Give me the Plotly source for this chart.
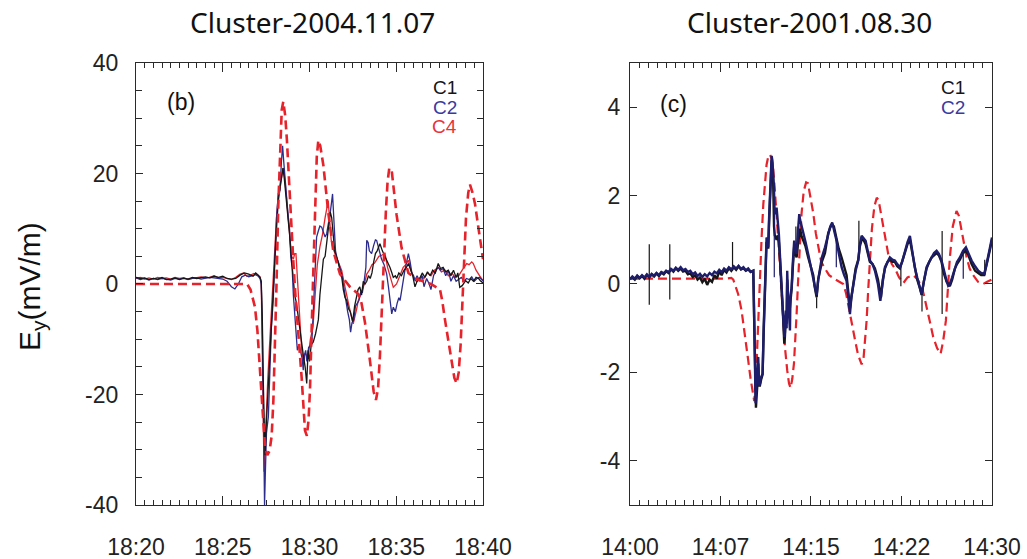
import pandas as pd
import plotly.graph_objects as go

# ---------------- Panel (b): Cluster 2004-11-07, minutes after 18:20 ----------------
b_start = "2004-11-07 18:20:00"
b_end = "2004-11-07 18:40:00"

b_c1 = [
    (0, 1.2), (0.25, 1.0), (0.5, 1.1), (0.75, 0.8), (1.0, 1.0), (1.25, 0.9), (1.5, 1.2), (1.75, 0.8),
    (2.0, 0.9), (2.25, 1.1), (2.5, 0.8), (2.75, 1.0), (3.0, 0.9), (3.25, 1.2), (3.5, 1.0), (3.75, 1.1),
    (4.0, 1.3), (4.25, 1.1), (4.5, 1.4), (4.75, 1.2), (5.0, 1.4), (5.25, 1.0), (5.5, 0.9), (5.75, 1.0),
    (6.0, 1.6), (6.25, 2.0), (6.5, 1.8), (6.75, 1.4), (6.9, 2.0), (7.05, 1.6), (7.15, 1.2), (7.22, 0.5),
    (7.28, -6), (7.34, -18), (7.4, -28), (7.44, -31), (7.5, -26), (7.6, -20), (7.7, -13), (7.8, -6),
    (7.9, -2), (8.0, 4), (8.1, 10), (8.2, 15), (8.3, 17), (8.4, 19), (8.47, 21), (8.55, 19),
    (8.65, 16), (8.75, 13), (8.85, 9), (8.95, 5), (9.05, 1), (9.15, -2), (9.25, -3.5), (9.35, -6),
    (9.45, -9), (9.55, -11), (9.65, -13), (9.75, -15), (9.84, -18), (9.92, -12), (10.0, -14), (10.1, -11),
    (10.22, -10.5), (10.35, -9), (10.45, -7), (10.51, -6.5), (10.6, -2), (10.7, 1), (10.8, 4.5), (10.9, 5),
    (11.0, 8), (11.1, 10), (11.2, 13), (11.28, 12), (11.35, 9), (11.45, 6), (11.55, 5), (11.65, 4),
    (11.75, 2.5), (11.85, 1.5), (11.95, -1), (12.05, -2.5), (12.15, -3), (12.25, -4.5), (12.35, -5), (12.49, -6.8),
    (12.6, -4), (12.7, -2.5), (12.8, -1), (12.9, -0.5), (13.0, -2), (13.1, 0.5), (13.2, 0), (13.3, 0.5),
    (13.4, 1.5), (13.5, 1), (13.6, 2), (13.7, 4), (13.8, 5.5), (13.9, 6), (14.0, 7), (14.06, 7.3),
    (14.2, 6), (14.35, 5), (14.5, 4), (14.64, 3), (14.75, 2), (14.83, 1.2), (14.95, 1.5), (15.02, 1.0),
    (15.15, 2), (15.3, 1.5), (15.45, 2.5), (15.55, 2.8), (15.7, 3.7), (15.85, 2.5), (15.95, 1.5), (16.08, -0.5),
    (16.2, 0.5), (16.35, 1.0), (16.5, 2.0), (16.65, 1.2), (16.8, 2.2), (16.95, 1.5), (17.1, 2.5), (17.25, 2),
    (17.42, 3.7), (17.55, 2.8), (17.7, 3), (17.85, 2.2), (18.0, 2.5), (18.15, 1.5), (18.3, 2.5), (18.45, 1.2),
    (18.55, 2), (18.66, -0.6), (18.8, -0.3), (19.0, 0.6), (19.15, 0.2), (19.3, 1.0), (19.45, 0.5), (19.6, 1.2),
    (19.75, 1.0), (19.85, 0.6), (20.0, 0.2),
]

b_c2 = [
    (0, 1.1), (0.25, 0.8), (0.5, 1.0), (0.75, 0.7), (1.0, 1.0), (1.25, 0.8), (1.5, 1.0), (1.75, 0.9),
    (2.0, 0.7), (2.25, 1.0), (2.5, 0.9), (2.75, 1.1), (3.0, 0.8), (3.25, 1.0), (3.5, 1.1), (3.75, 0.9),
    (4.0, 1.0), (4.25, 1.2), (4.5, 1.1), (4.75, 1.0), (5.0, 0.9), (5.25, 0.5), (5.5, -0.5), (5.7, -0.9),
    (5.9, 0), (6.1, 1.3), (6.3, 1.6), (6.5, 1.3), (6.7, 1.5), (6.9, 1.7), (7.05, 1.4), (7.15, 1.0),
    (7.22, 0), (7.28, -8), (7.34, -22), (7.38, -34), (7.41, -40), (7.45, -35), (7.52, -27), (7.63, -24),
    (7.72, -16), (7.8, -8), (7.91, -3), (8.0, 4), (8.1, 12), (8.2, 16.3), (8.3, 17), (8.38, 22),
    (8.45, 25), (8.52, 22), (8.6, 18), (8.7, 15), (8.78, 12), (8.85, 10), (8.92, 5), (9.0, 3),
    (9.07, -2), (9.15, -6), (9.22, -9), (9.3, -12), (9.4, -11), (9.5, -12.5), (9.58, -13.5), (9.64, -15.6),
    (9.7, -13), (9.78, -12), (9.85, -14), (9.95, -11.5), (10.05, -11), (10.13, -10.8), (10.22, -5), (10.3, 2),
    (10.41, 8.5), (10.5, 9.5), (10.6, 10.5), (10.7, 10.3), (10.8, 9.5), (10.9, 8.5), (10.99, 9.1), (11.1, 11),
    (11.2, 13), (11.28, 15), (11.33, 16.3), (11.4, 12), (11.5, 6), (11.6, 4.5), (11.7, 3.5), (11.8, 2.5),
    (11.9, 1), (12.0, -1.5), (12.1, -3), (12.2, -5), (12.3, -6.5), (12.37, -8.7), (12.45, -7), (12.55, -6.5),
    (12.65, -4), (12.75, -3.5), (12.85, -3), (12.95, -1.5), (13.05, -1.5), (13.15, 0.5), (13.25, 3), (13.3, 7.9),
    (13.38, 7.5), (13.45, 6), (13.58, 5.5), (13.7, 7), (13.8, 8), (13.87, 7.9), (13.95, 7), (14.05, 6),
    (14.15, 4.5), (14.3, 3.5), (14.45, 1.8), (14.55, -0.5), (14.65, -3), (14.74, -5.4), (14.83, -4.2), (14.95, -5),
    (15.05, -3.5), (15.15, -2.5), (15.22, -3), (15.35, 0), (15.5, 2.5), (15.6, 4), (15.7, 5.5), (15.8, 4),
    (15.9, 2), (16.0, 1.5), (16.08, 0.6), (16.2, 1.5), (16.35, 0.5), (16.5, 1.5), (16.6, -0.5), (16.75, 1),
    (16.9, 0), (17.0, -1.0), (17.15, 1.5), (17.3, 2.5), (17.42, 3), (17.55, 2.5), (17.7, 2.8), (17.85, 1.5),
    (18.0, 2.5), (18.15, 0.5), (18.3, 1.5), (18.45, 0.5), (18.6, 0.8), (18.75, 1.2), (18.9, 0.5), (19.05, 1.0),
    (19.2, 0.8), (19.35, 1.3), (19.5, 0.5), (19.65, 1.0), (19.8, 1.2), (19.9, 0.8), (20.0, 0.6),
]

b_c4 = [
    (0, 1.0), (0.25, 1.2), (0.5, 0.9), (0.75, 1.1), (1.0, 0.9), (1.25, 1.2), (1.5, 1.0), (1.75, 1.1),
    (2.0, 0.9), (2.25, 1.2), (2.5, 1.0), (2.75, 1.1), (3.0, 0.9), (3.25, 1.0), (3.5, 1.1), (3.75, 1.3),
    (4.0, 1.1), (4.25, 1.2), (4.5, 1.5), (4.75, 1.1), (5.0, 1.2), (5.25, 1.0), (5.5, 0.8), (5.75, 1.2),
    (6.0, 1.8), (6.2, 2.0), (6.4, 1.4), (6.6, 1.6), (6.8, 1.9), (7.0, 1.6), (7.15, 1.3), (7.22, 0.2),
    (7.28, -10), (7.33, -24), (7.38, -34), (7.43, -30), (7.5, -24), (7.6, -17), (7.7, -11), (7.8, -5),
    (7.9, 0), (8.0, 6), (8.1, 12), (8.2, 16), (8.3, 18), (8.4, 20), (8.49, 21), (8.58, 19),
    (8.68, 15.5), (8.78, 12.5), (8.88, 9), (8.97, 5), (9.07, 4.5), (9.15, 5.5), (9.22, 5.5), (9.3, 1.5),
    (9.36, -3), (9.45, -7.5), (9.55, -12), (9.65, -14), (9.75, -12.5), (9.85, -13), (9.95, -12.5), (10.05, -10),
    (10.2, -7.8), (10.35, -1), (10.45, 3.5), (10.6, 6.7), (10.75, 9), (10.9, 12), (11.0, 13.5), (11.08, 15.1),
    (11.15, 12), (11.25, 8), (11.35, 6.5), (11.47, 5.5), (11.6, 4.5), (11.75, 3), (11.86, 2.4), (12.05, -0.6),
    (12.2, -3), (12.35, -5), (12.52, -7.2), (12.62, -6), (12.72, -4.5), (12.81, -3), (12.95, -2), (13.1, -0.6),
    (13.2, 0.5), (13.3, 1.8), (13.45, 2.5), (13.6, 3.5), (13.75, 3.8), (13.87, 4.3), (14.0, 5), (14.15, 5.2),
    (14.35, 5.5), (14.5, 3), (14.65, 1.5), (14.83, -0.6), (15.02, 0), (15.2, 1.5), (15.4, 3), (15.55, 3.5),
    (15.7, 4.3), (15.85, 2.5), (16.0, 1.2), (16.15, 0.5), (16.27, 0.6), (16.45, 1.5), (16.6, 1), (16.8, 2),
    (17.0, 1.5), (17.2, 2.5), (17.42, 3), (17.6, 2.2), (17.8, 2.5), (18.0, 1.5), (18.2, 2), (18.4, 1.2),
    (18.6, 1.5), (18.8, 2.5), (18.95, 3.2), (19.06, 3.7), (19.2, 3.5), (19.35, 4.0), (19.44, 3.7), (19.6, 2.5),
    (19.8, 1.5), (20.0, 0.6),
]

# model field (dashed)
b_model = [
    (0, 0), (6.4, 0), (6.6, -1.0), (6.86, -4.2), (7.0, -8.5), (7.15, -15), (7.3, -23), (7.44, -29.5),
    (7.57, -31), (7.7, -30.2), (7.82, -27.5), (7.92, -21), (8.01, -12), (8.1, 0), (8.2, 14), (8.3, 25),
    (8.4, 31.5), (8.49, 33), (8.6, 30.5), (8.7, 26), (8.78, 21), (8.9, 13), (9.07, 4), (9.2, -2.5),
    (9.35, -8.5), (9.55, -17), (9.74, -26.5), (9.85, -27.5), (9.95, -24.5), (10.03, -19), (10.18, -2), (10.32, 15),
    (10.42, 23), (10.51, 26), (10.62, 25), (10.8, 21.5), (11.08, 13), (11.37, 6), (11.76, 1.8), (12.33, -0.5),
    (12.81, -1.8), (13.0, -3.5), (13.2, -7), (13.49, -14), (13.7, -19.5), (13.83, -21), (13.95, -19), (14.06, -13),
    (14.25, 3), (14.4, 13), (14.5, 18.5), (14.6, 21), (14.74, 20.5), (15.02, 12.5), (15.31, 6.5), (15.7, 2),
    (16.1, 1.0), (16.56, 0.5), (17.0, 0), (17.52, -1), (17.65, -3), (17.81, -6.5), (18.0, -10.5), (18.2, -14.5),
    (18.35, -17), (18.48, -18), (18.6, -16), (18.71, -11), (18.87, 2), (19.02, 12), (19.15, 16.5), (19.25, 18),
    (19.4, 16.5), (19.54, 14.5), (19.79, 9), (20.0, 4.5),
]

b_yticks = [-40, -20, 0, 20, 40]
b_ytick_labels = ["-40", "-20", "0", "20", "40"]

# ---------------- Panel (c): Cluster 2001-08-30, minutes after 14:00 ----------------
c_start = "2001-08-30 14:00:00"
c_end = "2001-08-30 14:30:00"

c_c1 = [
    (0.0, 0.12), (0.2, 0.15), (0.4, 0.10), (0.6, 0.18), (0.8, 0.13), (1.0, 0.18), (1.2, 0.12), (1.4, 0.20),
    (1.6, 0.15), (1.8, 0.22), (2.0, 0.17), (2.2, 0.24), (2.4, 0.18), (2.6, 0.26), (2.8, 0.22), (3.0, 0.29),
    (3.2, 0.25), (3.4, 0.33), (3.6, 0.28), (3.8, 0.36), (4.0, 0.30), (4.2, 0.35), (4.4, 0.28), (4.6, 0.30),
    (4.8, 0.22), (5.0, 0.24), (5.2, 0.16), (5.4, 0.20), (5.6, 0.10), (5.8, 0.15), (6.0, 0.04), (6.2, 0.12),
    (6.4, -0.02), (6.6, 0.10), (6.8, 0.05), (7.0, 0.20), (7.2, 0.12), (7.4, 0.28), (7.6, 0.20), (7.8, 0.32),
    (8.0, 0.26), (8.2, 0.36), (8.4, 0.30), (8.6, 0.38), (8.8, 0.32), (9.0, 0.40), (9.2, 0.33), (9.4, 0.36),
    (9.6, 0.30), (9.8, 0.33), (10.0, 0.27), (10.15, 0.28),
    (10.22, 0.3), (10.3, -0.9), (10.44, -2.8), (10.55, -2.3), (10.63, -1.8), (10.7, -2.3), (10.77, -2.3), (10.88, -2.15),
    (10.99, -2.05), (11.08, -1.1), (11.18, -0.1), (11.25, 0.5), (11.32, 0.95), (11.4, 0.9), (11.46, 0.8), (11.53, 1.4),
    (11.6, 1.95), (11.68, 2.5), (11.74, 2.8), (11.8, 2.7), (11.87, 2.3), (11.94, 1.3), (12.0, 1.1), (12.08, 1.05),
    (12.15, 1.0), (12.25, 1.1), (12.34, 0.95), (12.42, 0.6), (12.51, 0.2), (12.6, -0.3), (12.7, -0.8), (12.79, -1.35),
    (12.84, -1.2), (12.92, -0.7), (12.98, -0.9), (13.03, 0.1), (13.1, -0.4), (13.2, -0.7), (13.3, -0.4), (13.4, -0.1),
    (13.5, 0.4), (13.61, 0.85), (13.7, 0.7), (13.81, 0.6), (13.92, 0.9), (14.03, 1.2), (14.1, 1.25), (14.2, 1.1),
    (14.36, 1.0), (14.55, 0.85), (14.77, 0.6), (14.95, 0.4), (15.19, 0.2), (15.3, -0.05), (15.47, -0.3), (15.6, 0.1),
    (15.74, 0.3), (15.9, 0.5), (16.16, 0.7), (16.3, 0.95), (16.43, 1.15), (16.6, 1.28), (16.76, 1.35), (16.9, 1.3),
    (17.12, 1.05), (17.3, 0.8), (17.54, 0.6), (17.75, 0.4), (17.95, 0.2), (18.1, -0.2), (18.23, -0.55), (18.35, -0.3),
    (18.5, 0.0), (18.7, 0.35), (18.92, 0.55), (19.05, 0.85), (19.2, 1.0), (19.35, 1.0), (19.53, 0.9), (19.7, 0.7),
    (19.88, 0.5), (20.1, 0.45), (20.3, 0.35), (20.55, 0.1), (20.8, -0.3), (20.95, 0.1), (21.13, 0.35), (21.35, 0.5),
    (21.54, 0.55), (21.75, 0.5), (21.95, 0.5), (22.15, 0.4), (22.37, 0.35), (22.55, 0.5), (22.78, 0.7), (23.0, 0.9),
    (23.2, 1.0), (23.4, 0.7), (23.6, 0.35), (23.8, 0.1), (24.03, -0.1), (24.17, -0.25), (24.35, 0.05), (24.58, 0.35),
    (24.8, 0.5), (24.99, 0.6), (25.2, 0.65), (25.41, 0.7), (25.6, 0.65), (25.82, 0.5), (26.0, 0.25), (26.24, 0.05),
    (26.51, -0.05), (26.7, 0.1), (26.93, 0.35), (27.1, 0.45), (27.34, 0.55), (27.6, 0.7), (27.84, 0.75), (28.05, 0.65),
    (28.31, 0.45), (28.6, 0.3), (28.86, 0.25), (29.1, 0.2), (29.36, 0.2), (29.55, 0.4), (29.69, 0.6), (29.85, 0.8),
    (30.0, 1.0),
]

# short spikes in the C1 record: (minute, low, high)
c_c1_spikes = [
    (1.6, -0.47, 0.9), (3.3, -0.35, 0.9), (8.5, 0.3, 0.95), (12.98, -1.0, 0.1), (13.75, 0.65, 1.3),
    (15.47, -0.55, -0.3), (18.97, 0.6, 1.43), (22.45, -0.05, 0.4), (24.2, -0.62, -0.2),
    (25.87, -0.68, 1.2), (29.4, 0.2, 0.55),
]

c_c2 = [
    (0.0, 0.10), (0.2, 0.17), (0.4, 0.12), (0.6, 0.19), (0.8, 0.14), (1.0, 0.20), (1.2, 0.15), (1.4, 0.22),
    (1.6, 0.16), (1.8, 0.23), (2.0, 0.19), (2.2, 0.25), (2.4, 0.20), (2.6, 0.27), (2.8, 0.24), (3.0, 0.30),
    (3.2, 0.27), (3.4, 0.34), (3.6, 0.30), (3.8, 0.37), (4.0, 0.32), (4.2, 0.38), (4.4, 0.31), (4.6, 0.34),
    (4.8, 0.27), (5.0, 0.30), (5.2, 0.22), (5.4, 0.26), (5.6, 0.18), (5.8, 0.23), (6.0, 0.16), (6.2, 0.22),
    (6.4, 0.17), (6.6, 0.25), (6.8, 0.20), (7.0, 0.28), (7.2, 0.24), (7.4, 0.32), (7.6, 0.27), (7.8, 0.35),
    (8.0, 0.30), (8.2, 0.38), (8.4, 0.33), (8.6, 0.40), (8.8, 0.35), (9.0, 0.41), (9.2, 0.34), (9.4, 0.38),
    (9.6, 0.31), (9.8, 0.35), (10.0, 0.28), (10.15, 0.30),
    (10.22, 0.3), (10.3, -0.83), (10.41, -2.7), (10.5, -2.2), (10.63, -1.65), (10.7, -2.3), (10.77, -2.26), (10.88, -2.1),
    (10.99, -2.03), (11.08, -1.0), (11.18, -0.07), (11.25, 0.6), (11.32, 1.05), (11.4, 1.0), (11.46, 0.83), (11.53, 1.5),
    (11.6, 2.03), (11.68, 2.6), (11.74, 2.9), (11.8, 2.8), (11.87, 2.56), (11.93, 2.2), (11.99, 1.6),
    (12.08, 1.6), (12.15, 1.73), (12.25, 1.45), (12.34, 1.13), (12.42, 0.7), (12.51, 0.3), (12.6, -0.2), (12.7, -0.68),
    (12.79, -1.2), (12.84, -1.1), (12.92, -0.6), (12.98, -1.0), (13.03, 0.3), (13.1, -0.3), (13.2, -0.68), (13.26, -1.05),
    (13.3, -0.3), (13.4, -0.07), (13.5, 0.5), (13.61, 0.98), (13.7, 0.8), (13.81, 0.68), (13.92, 1.2), (14.03, 1.58),
    (14.1, 1.45), (14.2, 1.35), (14.36, 1.2), (14.55, 0.95), (14.77, 0.68), (14.95, 0.45), (15.19, 0.15), (15.3, -0.05),
    (15.47, -0.25), (15.6, 0.1), (15.74, 0.38), (15.9, 0.6), (16.16, 0.83), (16.3, 1.0), (16.43, 1.13), (16.6, 1.3),
    (16.76, 1.39), (16.9, 1.25), (17.12, 0.98), (17.3, 0.7), (17.54, 0.38), (17.75, 0.2),
    (17.95, 0.07), (18.1, -0.3), (18.23, -0.68), (18.35, -0.3), (18.5, -0.07), (18.7, 0.3), (18.92, 0.53), (19.05, 0.9),
    (19.2, 1.09), (19.35, 1.05), (19.53, 0.98), (19.7, 0.75), (19.88, 0.53), (20.1, 0.45), (20.3, 0.3), (20.55, 0.0),
    (20.75, -0.38), (20.95, 0.05), (21.13, 0.38), (21.35, 0.5), (21.54, 0.6), (21.75, 0.55), (21.95, 0.53), (22.15, 0.45),
    (22.37, 0.38), (22.55, 0.5), (22.78, 0.75), (23.0, 0.95), (23.2, 1.09), (23.4, 0.75), (23.6, 0.38), (23.8, 0.15),
    (24.03, -0.07), (24.17, -0.23), (24.35, 0.05), (24.58, 0.38), (24.8, 0.5), (24.99, 0.6), (25.2, 0.7), (25.41, 0.75),
    (25.6, 0.68), (25.82, 0.53), (26.0, 0.3), (26.24, 0.07), (26.37, -0.04), (26.51, 0.0), (26.7, 0.15), (26.93, 0.38),
    (27.1, 0.5), (27.34, 0.6), (27.6, 0.75), (27.84, 0.83), (28.05, 0.7), (28.31, 0.53),
    (28.6, 0.4), (28.86, 0.3), (29.1, 0.25), (29.36, 0.23), (29.55, 0.45), (29.69, 0.68), (29.85, 0.85), (30.0, 1.05),
]

# short spikes in the C2 record: (minute, low, high)
c_c2_spikes = [(11.96, 0.15, 2.2), (17.1, 0.38, 1.0), (27.62, 0.12, 0.75)]

# model field (dashed)
c_model = [
    (0, 0.12), (2, 0.12), (4, 0.12), (6, 0.12), (8, 0.12), (8.4, 0.14), (8.56, 0.1), (8.75, -0.05),
    (8.97, -0.23), (9.25, -0.6), (9.53, -1.13), (9.8, -1.73), (10.0, -2.15), (10.15, -2.45), (10.3, -2.65), (10.45, -2.1),
    (10.6, -1.0), (10.75, 0.2), (10.91, 1.05), (11.05, 1.8), (11.18, 2.33), (11.32, 2.7), (11.46, 2.88), (11.6, 2.93),
    (11.75, 2.83), (11.87, 2.6), (12.0, 2.15), (12.1, 1.8), (12.25, 1.2), (12.37, 0.68), (12.55, -0.1), (12.7, -0.83),
    (12.85, -1.45), (13.03, -1.95), (13.18, -2.25), (13.31, -2.35), (13.45, -2.15), (13.59, -1.8), (13.7, -1.3), (13.81, -0.68),
    (13.92, 0.0), (14.03, 0.68), (14.22, 1.6), (14.4, 2.1), (14.6, 2.3), (14.75, 2.28), (14.95, 2.0), (15.19, 1.6),
    (15.4, 1.15), (15.6, 0.83), (15.85, 0.5), (16.16, 0.35), (16.5, 0.2), (16.98, 0.11), (17.4, 0.05), (17.67, 0.0),
    (17.9, -0.2), (18.09, -0.45), (18.35, -0.85), (18.64, -1.25), (18.9, -1.6), (19.2, -1.82), (19.35, -1.7), (19.5, -1.2),
    (19.61, -0.83), (19.75, -0.1), (19.88, 0.6), (20.05, 1.25), (20.25, 1.75), (20.45, 1.95), (20.6, 1.9), (20.8, 1.6),
    (20.99, 1.28), (21.2, 0.95), (21.4, 0.68), (21.7, 0.45), (21.96, 0.35), (22.3, 0.15), (22.65, 0.02), (23.0, 0.15),
    (23.47, 0.2), (23.85, 0.1), (24.17, -0.05), (24.4, -0.3), (24.58, -0.5), (24.85, -0.85), (25.13, -1.2), (25.45, -1.45),
    (25.74, -1.58), (25.95, -1.3), (26.18, -0.83), (26.35, -0.1), (26.51, 0.6), (26.75, 1.3), (27.06, 1.65), (27.25, 1.55),
    (27.48, 1.2), (27.7, 0.85), (27.9, 0.6), (28.15, 0.35), (28.44, 0.2), (28.85, 0.05), (29.27, 0.0), (29.6, 0.05),
    (30.0, 0.1),
]

c_yticks = [-4, -2, 0, 2, 4]
c_ytick_labels = ["-4", "-2", "0", "2", "4"]

b_titles = ["Cluster-2004.11.07", "(b)"]
c_titles = ["Cluster-2001.08.30", "(c)"]
b_names = ["C1", "C2", "C4"]
c_names = ["C1", "C2"]

BLACK = "#161616"
BLUE_B = "#2c2c8c"
BLUE_C = "#1d1d6b"
RED = "#e6222a"
AXIS = "#2a2a2a"
TICKFONT = dict(family="Liberation Sans, Arial, sans-serif", size=23, color="#222222")


def series(start, pts):
    t0 = pd.Timestamp(start)
    xs = [t0 + pd.Timedelta(minutes=m) for m, _ in pts]
    ys = [v for _, v in pts]
    return xs, ys


def spike_series(start, spikes):
    t0 = pd.Timestamp(start)
    xs, ys = [], []
    for m, lo, hi in spikes:
        t = t0 + pd.Timedelta(minutes=m)
        xs += [t, t, None]
        ys += [lo, hi, None]
    return xs, ys


fig = go.Figure()


def add_xy(xs, ys, color, width, xa, ya, dash=None):
    fig.add_trace(go.Scatter(
        x=xs, y=ys, mode="lines", xaxis=xa, yaxis=ya, showlegend=False,
        line=dict(color=color, width=width, dash=dash), hoverinfo="skip",
    ))


def add_line(pts, start, color, width, xa, ya, dash=None):
    xs, ys = series(start, pts)
    add_xy(xs, ys, color, width, xa, ya, dash)


# panel (b)
add_line(b_c4, b_start, RED, 1.3, "x", "y")
add_line(b_c2, b_start, BLUE_B, 1.3, "x", "y")
add_line(b_c1, b_start, BLACK, 1.3, "x", "y")
add_line(b_model, b_start, RED, 2.6, "x", "y", dash="9px,5px")

# panel (c)
add_line(c_model, c_start, RED, 2.2, "x2", "y2", dash="9px,5px")
add_line(c_c1, c_start, BLACK, 2.4, "x2", "y2")
add_xy(*spike_series(c_start, c_c1_spikes), BLACK, 1.2, "x2", "y2")
add_line(c_c2, c_start, BLUE_C, 2.4, "x2", "y2")
add_xy(*spike_series(c_start, c_c2_spikes), BLUE_C, 1.2, "x2", "y2")

common_x = dict(
    type="date", tickformat="%H:%M", showline=True, linecolor=AXIS, linewidth=1.3,
    mirror="allticks", ticks="inside", ticklen=9, tickwidth=1.2, tickcolor=AXIS,
    showgrid=False, zeroline=False, tickfont=TICKFONT, ticklabelstandoff=21, automargin=False,
)
common_y = dict(
    showline=True, linecolor=AXIS, linewidth=1.3, mirror="allticks", ticks="inside",
    ticklen=7, tickwidth=1.2, tickcolor=AXIS, showgrid=False, zeroline=False, tickfont=TICKFONT,
    automargin=False,
)

fig.update_layout(
    width=1027, height=559, margin=dict(l=0, r=0, t=0, b=0, autoexpand=False),
    paper_bgcolor="white", plot_bgcolor="white",
    xaxis=dict(
        common_x, domain=[0.1324, 0.4703], range=[b_start, b_end],
        tick0=b_start, dtick=300000,
        minor=dict(dtick=30000, tick0=b_start, ticks="inside", ticklen=5, tickwidth=1, tickcolor=AXIS),
        anchor="y",
    ),
    yaxis=dict(
        common_y, domain=[0.0966, 0.8873], range=[-40, 40],
        tickmode="array", tickvals=b_yticks, ticktext=b_ytick_labels,
        minor=dict(dtick=5, tick0=0, ticks="inside", ticklen=6, tickwidth=1, tickcolor=AXIS),
        ticklabelstandoff=12, anchor="x",
    ),
    xaxis2=dict(
        common_x, domain=[0.6134, 0.9659], range=[c_start, c_end],
        tick0=c_start, dtick=450000,
        minor=dict(dtick=45000, tick0=c_start, ticks="inside", ticklen=5, tickwidth=1, tickcolor=AXIS),
        anchor="y2",
    ),
    yaxis2=dict(
        common_y, domain=[0.0966, 0.8873], range=[-5, 5],
        tickmode="array", tickvals=c_yticks, ticktext=c_ytick_labels,
        ticklabelstandoff=4, anchor="x2",
    ),
)


def px(xp, yp):
    return xp / 1027, 1 - yp / 559


ann = []
for text, (x, y) in [(b_titles[0], (312, 22)), (c_titles[0], (809, 22))]:
    ax, ay = px(x, y)
    ann.append(dict(text=text, x=ax, y=ay, xref="paper", yref="paper", showarrow=False,
                    font=dict(family="Noto Sans, sans-serif", size=28, color="#111111"),
                    xanchor="center", yanchor="middle"))
for text, (x, y) in [(b_titles[1], (181, 102)), (c_titles[1], (673, 104))]:
    ax, ay = px(x, y)
    ann.append(dict(text=text, x=ax, y=ay, xref="paper", yref="paper", showarrow=False,
                    font=dict(family="Liberation Sans, Arial, sans-serif", size=23, color="#111111"),
                    xanchor="center", yanchor="middle"))
for name, color, y in zip(b_names, [BLACK, "#3a3a9e", "#e8323a"], [87, 107, 126.5]):
    ax, ay = px(459, y)
    ann.append(dict(text=name, x=ax, y=ay, xref="paper", yref="paper", showarrow=False,
                    font=dict(family="Liberation Sans, Arial, sans-serif", size=19, color=color),
                    xanchor="right", yanchor="middle"))
for name, color, y in zip(c_names, [BLACK, "#3a3a9e"], [87, 108]):
    ax, ay = px(967, y)
    ann.append(dict(text=name, x=ax, y=ay, xref="paper", yref="paper", showarrow=False,
                    font=dict(family="Liberation Sans, Arial, sans-serif", size=19, color=color),
                    xanchor="right", yanchor="middle"))
ax, ay = px(31, 287)
ann.append(dict(text="E<sub>y</sub>(mV/m)", x=ax, y=ay, xref="paper", yref="paper", showarrow=False,
                textangle=-90, font=dict(family="Liberation Sans, Arial, sans-serif", size=30, color="#111111"),
                xanchor="center", yanchor="middle"))
fig.update_layout(annotations=ann)

fig.write_html("out.html")
